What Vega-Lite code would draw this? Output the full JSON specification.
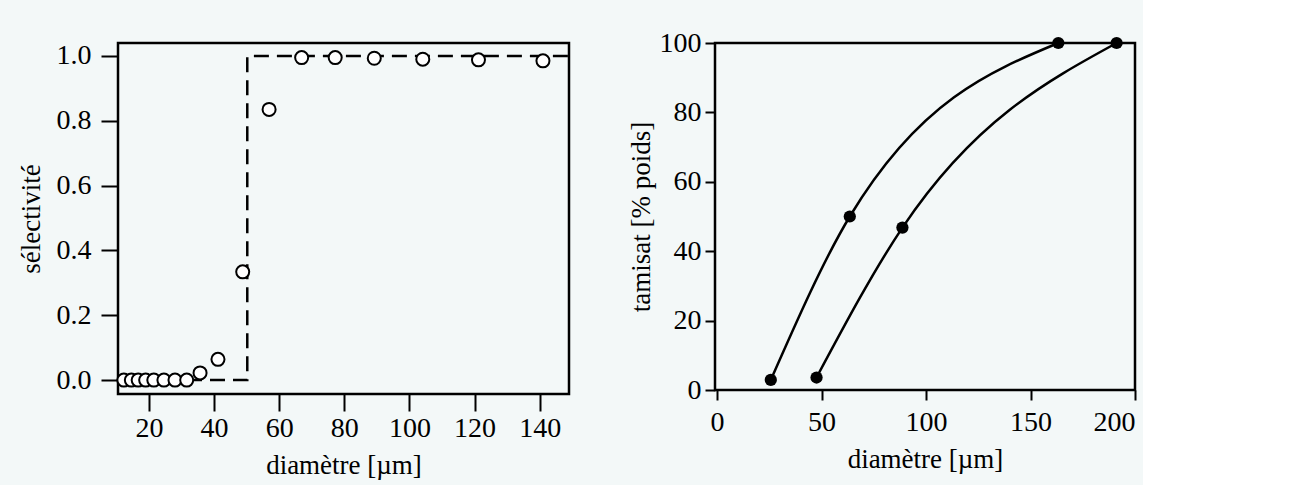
{
  "$schema": "https://vega.github.io/schema/vega-lite/v6.json",
  "background": "#f3f8f8",
  "padding": {"left": 15, "top": 27, "right": 5, "bottom": 5},
  "spacing": 49,
  "config": {
    "font": "Liberation Serif",
    "view": {"stroke": "black", "strokeWidth": 2.5},
    "axis": {"grid": false, "domain": false, "tickColor": "black", "tickWidth": 2, "labelColor": "black", "titleColor": "black", "labelFont": "Liberation Serif", "titleFont": "Liberation Serif", "labelFontSize": 28, "titleFontSize": 27, "titleFontWeight": "normal"}
  },
  "datasets": {
    "sel": [
      {"d": 12.3, "s": 0}, {"d": 14.6, "s": 0}, {"d": 16.7, "s": 0}, {"d": 19.0, "s": 0},
      {"d": 21.5, "s": 0}, {"d": 24.6, "s": 0}, {"d": 28.0, "s": 0}, {"d": 31.6, "s": 0},
      {"d": 35.7, "s": 0.022}, {"d": 41.2, "s": 0.064}, {"d": 48.8, "s": 0.334}, {"d": 56.9, "s": 0.835},
      {"d": 66.9, "s": 0.995}, {"d": 77.2, "s": 0.995}, {"d": 89.2, "s": 0.993}, {"d": 104.1, "s": 0.99},
      {"d": 121.2, "s": 0.988}, {"d": 141.0, "s": 0.985}
    ],
    "parfait": [
      {"d": 10.5, "s": 0, "o": 1}, {"d": 50.2, "s": 0, "o": 2}, {"d": 50.2, "s": 1, "o": 3}, {"d": 149, "s": 1, "o": 4}
    ],
    "tamis": [
      {"d": 25.7, "p": 2.9, "serie": "poudre brute"},
      {"d": 63.5, "p": 50.0, "serie": "poudre brute"},
      {"d": 163.3, "p": 100, "serie": "poudre brute"},
      {"d": 47.6, "p": 3.6, "serie": "tamisat"},
      {"d": 88.7, "p": 46.8, "serie": "tamisat"},
      {"d": 191.2, "p": 100, "serie": "tamisat"}
    ]
  },
  "resolve": {
    "scale": {"x": "independent", "y": "independent"}
  },
  "hconcat": [
    {
      "width": 451,
      "height": 351,
      "layer": [
        {
          "data": {"name": "parfait"},
          "mark": {"type": "line", "color": "black", "strokeWidth": 2.5, "strokeDash": [15, 8]},
          "encoding": {
            "x": {"field": "d", "type": "quantitative", "scale": {"domain": [10.5, 149], "nice": false, "zero": false},
                  "axis": {"values": [20, 40, 60, 80, 100, 120, 140], "tickSize": 17, "labelPadding": 3, "title": "diamètre [µm]", "titlePadding": 10}},
            "y": {"field": "s", "type": "quantitative", "scale": {"domain": [-0.043, 1.04], "nice": false, "zero": false},
                  "axis": {"values": [0, 0.2, 0.4, 0.6, 0.8, 1], "tickSize": 17, "labelPadding": 10, "title": "sélectivité", "titlePadding": 11}},
            "order": {"field": "o", "type": "quantitative"}
          }
        },
        {
          "data": {"name": "sel"},
          "mark": {"type": "point", "filled": true, "fill": "white", "stroke": "black", "strokeWidth": 2, "size": 170, "opacity": 1},
          "encoding": {
            "x": {"field": "d", "type": "quantitative"},
            "y": {"field": "s", "type": "quantitative"}
          }
        }
      ]
    },
    {
      "width": 420,
      "height": 347,
      "layer": [
        {
          "data": {"name": "tamis"},
          "mark": {"type": "line", "color": "black", "strokeWidth": 2.5, "interpolate": "monotone"},
          "encoding": {
            "x": {"field": "d", "type": "quantitative", "scale": {"domain": [-1, 200], "nice": false, "zero": false},
                  "axis": {"values": [0, 50, 100, 150, 200], "tickSize": 10, "labelPadding": 8, "title": "diamètre [µm]", "titlePadding": 10}},
            "y": {"field": "p", "type": "quantitative", "scale": {"domain": [0, 100], "nice": false, "zero": false},
                  "axis": {"values": [0, 20, 40, 60, 80, 100], "tickSize": 10, "labelPadding": 4, "title": "tamisat [% poids]", "titlePadding": 4}},
            "detail": {"field": "serie", "type": "nominal"}
          }
        },
        {
          "data": {"name": "tamis"},
          "mark": {"type": "point", "filled": true, "color": "black", "size": 150, "opacity": 1},
          "encoding": {
            "x": {"field": "d", "type": "quantitative"},
            "y": {"field": "p", "type": "quantitative"}
          }
        }
      ]
    }
  ]
}
